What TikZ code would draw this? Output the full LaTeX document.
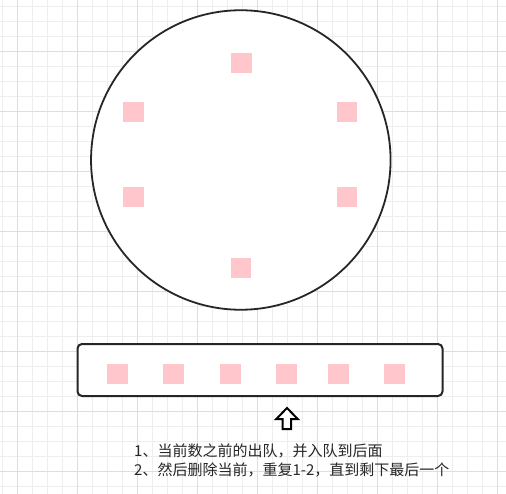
\documentclass[tikz,border=0pt]{standalone}
\usepackage{fontspec}
\newfontfamily\cjk{Noto Sans CJK SC}
\usetikzlibrary{positioning}
\definecolor{cellpink}{RGB}{255,198,204}
\definecolor{inkdark}{RGB}{38,38,38}
\definecolor{gridminor}{RGB}{238,238,238}
\definecolor{gridmajor}{RGB}{222,222,222}
\tikzset{
  cell/.style={fill=cellpink, draw=none, inner sep=0pt, minimum size=20.5pt},
  ring/.style={draw=inkdark, line width=1.8pt, circle, inner sep=0pt, minimum size=299.5pt},
  queuebox/.style={draw=inkdark, line width=2pt, rounded corners=4.5pt, inner sep=0pt,
    minimum width=365pt, minimum height=52pt},
  note/.style={font=\cjk\fontsize{15}{19.5}\selectfont, text=black!85, inner sep=0pt, anchor=base west},
  thin grid/.style={draw=gridminor, line width=1pt},
  thick grid/.style={draw=gridmajor, line width=1pt},
}
\begin{document}
\begin{tikzpicture}[x=1pt, y=-1pt]
  \useasboundingbox[fill=white] (0,0) rectangle (506,494);
  % background grid
  \foreach \x in {2.7,17.7,...,500} \draw[thin grid] (\x,0) -- (\x,494);
  \foreach \y in {6.7,21.7,...,494} \draw[thin grid] (0,\y) -- (506,\y);
  \foreach \x in {17.3,77.3,...,500} \draw[thick grid] (\x,0) -- (\x,494);
  \foreach \y in {51.7,111.7,...,494} \draw[thick grid] (0,\y) -- (506,\y);

  % circle of people
  \node[ring, fill=white] (circ) at (240.8,160) {};
  \node[cell] (c1) at (241.5,63) {};
  \node[cell] (c2) at (347,112) {};
  \node[cell] (c3) at (347,197) {};
  \node[cell] (c4) at (241,268) {};
  \node[cell] (c5) at (133.5,197) {};
  \node[cell] (c6) at (133.5,112) {};

  % queue
  \node[queuebox, fill=white] (queue) at (260,370) {};
  \foreach \x [count=\i] in {117.3,173.5,230.5,286.5,338.5,394.5}
    \node[cell] (q\i) at (\x,374) {};

  % up arrow
  \draw[line width=2pt, draw=black, fill=white, line join=miter]
    (287,408) -- (297.7,419) -- (291,419) -- (291,429) -- (282.7,429)
    -- (282.7,419) -- (276.3,419) -- cycle;

  \node[note] (note1) at (134,456) {1、当前数之前的出队，并入队到后面};
  \node[note] (note2) at (134,475) {2、然后删除当前，重复1-2，直到剩下最后一个};
\end{tikzpicture}
\end{document}
